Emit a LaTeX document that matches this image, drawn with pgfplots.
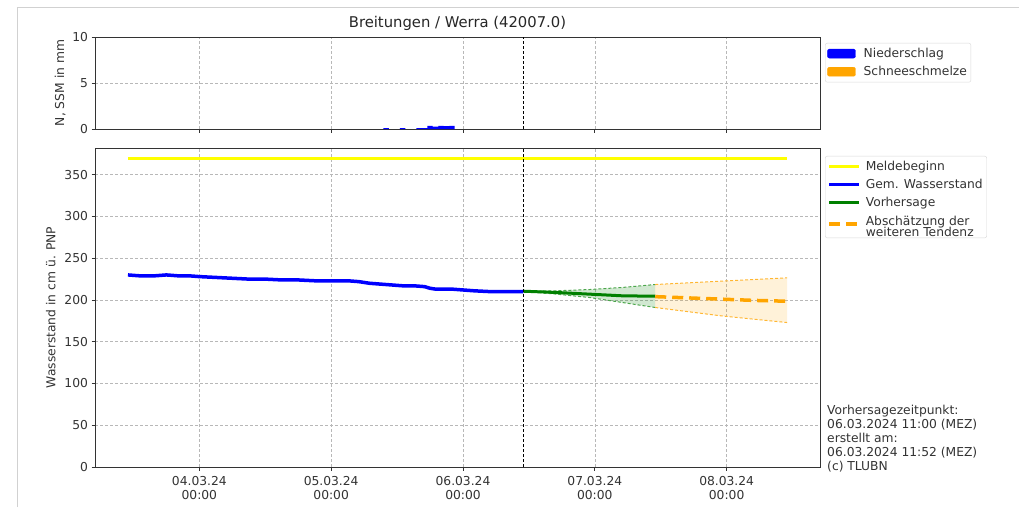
\documentclass[border=0pt]{standalone}
\usepackage{pgfplots}
\pgfplotsset{compat=1.18}
\usepackage{fontspec}
\setmainfont{DejaVu Sans}

\definecolor{mblue}{RGB}{0,0,255}
\definecolor{mgreen}{RGB}{0,128,0}
\definecolor{morange}{RGB}{255,165,0}
\definecolor{myellow}{RGB}{255,255,0}
\newcommand\fs{\fontsize{12.3}{14}\selectfont}

\pgfplotsset{
  panel/.style={
    scale only axis, width=725pt,
    xmin=-19, xmax=113,
    xtick={0,24,48,72,96},
    tick pos=left,
    axis line style={black!80, line width=0.8pt},
    tick align=outside, major tick length=3.5pt,
    tick style={black!80, line width=0.8pt},
    grid=major, grid style={dash pattern=on 3pt off 2pt, black!28, line width=0.6pt},
    ticklabel style={font=\fs, text=black!80},
    label style={font=\fs, text=black!80},
    /pgf/number format/assume math mode=true,
    legend cell align=left,
    legend style={font=\fs, text=black!80, draw=black!15, rounded corners=2pt,
      fill=white, inner xsep=2pt, inner ysep=3pt, row sep=3.3pt, column sep=3pt,
      nodes={inner sep=2pt}},
  },
  linelegend/.style={legend image code/.code={\draw[##1] (0pt,0pt) -- (30pt,0pt);}},
  boxlegend/.style={legend image code/.code={\fill[##1] (0pt,-4.5pt) rectangle (28pt,4.5pt);
    \path (31pt,0pt);}},
}

\begin{document}
\begin{tikzpicture}
\useasboundingbox (0pt,0pt) rectangle (1019pt,507pt);
\draw[black!18, line width=0.8pt] (17pt,0pt) -- (17pt,500pt) -- (1019pt,500pt);

% precipitation panel
\begin{axis}[panel, name=top, at={(95pt,378pt)}, anchor=south west,
  height=92pt, ymin=0, ymax=10, ytick={0,5,10},
  xticklabels={},
  ylabel={N, SSM in mm},
  title={Breitungen / Werra (42007.0)},
  title style={font=\fontsize{14.8}{16}\selectfont, text=black!85, yshift=-3pt},
  boxlegend,
  legend style={at={(1.007,0.935)}, anchor=north west}]
\addplot[ybar, bar width=5.4pt, fill=mblue, draw=none, forget plot] coordinates {
  (34,0.1) (37,0.1) (40,0.1) (41,0.1) (42,0.35) (43,0.25)
  (44,0.35) (45,0.3) (46,0.35)};
\addlegendimage{mblue}
\addlegendentry{Niederschlag}
\addlegendimage{morange}
\addlegendentry{Schneeschmelze}
\addplot[black, dash pattern=on 3pt off 2pt, line width=1pt, forget plot]
  coordinates {(59,0) (59,10)};
\end{axis}

% water level panel
\begin{axis}[panel, name=main, at={(95pt,40pt)}, anchor=south west,
  height=319pt, ymin=0, ymax=382, ytick={0,50,...,350},
  xticklabels={{04.03.24\\00:00},{05.03.24\\00:00},{06.03.24\\00:00},{07.03.24\\00:00},{08.03.24\\00:00}},
  xticklabel style={align=center, yshift=-2.5pt},
  ylabel={Wasserstand in cm ü. PNP},
  ylabel style={xshift=0pt, yshift=2pt},
  linelegend,
  legend style={at={(1.007,0.975)}, anchor=north west}]
% uncertainty bands
\addplot[fill=mgreen, fill opacity=0.18, draw=none, forget plot] coordinates {
  (59,210.5) (65,211) (71,212.5) (77,215) (83,218.5)
  (83,191) (77,197) (71,203) (65,207) (59,210.5)} -- cycle;
\addplot[fill=morange, fill opacity=0.15, draw=none, forget plot] coordinates {
  (83,218.5) (95,222.5) (107,226.5)
  (107,173) (95,181) (83,191)} -- cycle;
\addplot[mgreen!70, dash pattern=on 3pt off 2pt, line width=1pt, forget plot]
  coordinates {(59,210.5) (65,211) (71,212.5) (77,215) (83,218.5)};
\addplot[mgreen!70, dash pattern=on 3pt off 2pt, line width=1pt, forget plot]
  coordinates {(59,210.5) (65,207) (71,203) (77,197) (83,191)};
\addplot[morange!80, dash pattern=on 3pt off 2pt, line width=1pt, forget plot]
  coordinates {(83,218.5) (95,222.5) (107,226.5)};
\addplot[morange!80, dash pattern=on 3pt off 2pt, line width=1pt, forget plot]
  coordinates {(83,191) (95,181) (107,173)};
% series
\addplot[myellow, line width=3pt] coordinates {(-13,370) (107,370)};
\addlegendentry{Meldebeginn}
\addplot[mblue, line width=3.5pt] coordinates {
  (-13,230) (-11,229) (-8,229) (-6,230) (-4,229) (-2,229) (0,228)
  (3,227) (6,226) (9,225) (12,225) (15,224) (18,224) (21,223)
  (24,223) (27,223) (29,222) (31,220) (33,219) (35,218) (37,217)
  (39,217) (41,216) (42,214) (43,213) (46,213) (48,212) (50,211)
  (53,210) (56,210) (59,210)};
\addlegendentry{Gem. Wasserstand}
\addplot[mgreen, line width=3pt] coordinates {
  (59,210.5) (65,209) (71,207) (77,205) (83,204.5)};
\addlegendentry{Vorhersage}
\addplot[morange, line width=3.5pt, dash pattern=on 11pt off 6pt] coordinates {
  (83,204) (89,202.5) (95,201) (101,199.5) (107,198.5)};
\addlegendentry{\begin{tabular}{@{}l@{}}Abschätzung der\\[-2.5pt]weiteren Tendenz\end{tabular}}
\addplot[black, dash pattern=on 3pt off 2pt, line width=1pt, forget plot]
  coordinates {(59,0) (59,382)};
\end{axis}

\node[anchor=south west, align=left, inner sep=0pt, font=\fontsize{12.3}{13.9}\selectfont,
  text=black!80] at ([xshift=7pt,yshift=-5pt]main.south east)
  {Vorhersagezeitpunkt:\\06.03.2024 11:00 (MEZ)\\erstellt am:\\06.03.2024 11:52 (MEZ)\\(c) TLUBN};
\end{tikzpicture}
\end{document}
